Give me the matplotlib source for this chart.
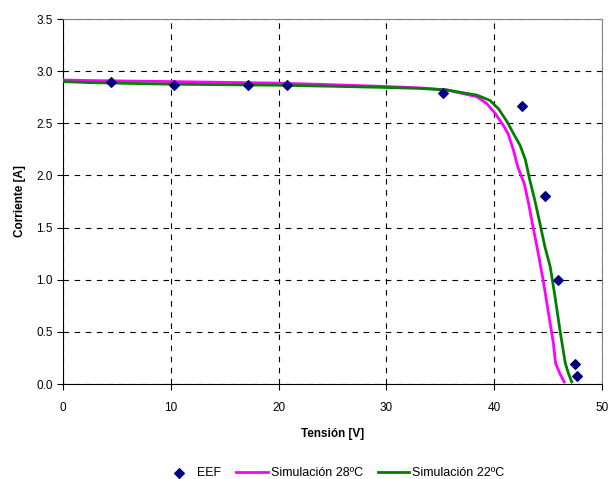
import matplotlib.pyplot as plt
import numpy as np

plt.rcParams['font.family'] = ['Liberation Sans', 'DejaVu Sans']

# measured points (EEF)
v_eef = [4.5, 10.3, 17.2, 20.8, 35.3, 42.6, 44.7, 45.9, 47.5, 47.65]
i_eef = [2.90, 2.87, 2.87, 2.87, 2.79, 2.67, 1.80, 1.00, 0.19, 0.08]

# simulation at 28 C
v_28 = [0, 2.5, 10, 20, 25, 29.4, 33, 35.6, 38.4, 39.3, 40.1, 40.85, 41.3, 41.8,
        42.2, 42.8, 43.2, 43.6, 44.1, 44.6, 44.9, 45.2, 45.5, 45.7, 46.1, 46.5]
i_28 = [2.915, 2.91, 2.90, 2.885, 2.87, 2.855, 2.84, 2.82, 2.755, 2.69, 2.595, 2.48, 2.40, 2.24,
        2.08, 1.92, 1.73, 1.51, 1.25, 0.965, 0.77, 0.58, 0.39, 0.20, 0.10, 0.02]

# simulation at 22 C
v_22 = [0, 2.5, 10, 20, 25, 29.4, 33, 35.6, 38.4, 39.6, 40.4, 41.2, 41.8, 42.4, 42.9,
        43.3, 43.8, 44.25, 44.7, 45.2, 45.6, 46.1, 46.6, 46.9, 47.2]
i_22 = [2.90, 2.89, 2.875, 2.865, 2.855, 2.845, 2.835, 2.82, 2.77, 2.72, 2.64, 2.515, 2.40, 2.29, 2.15,
        1.96, 1.75, 1.54, 1.32, 1.125, 0.87, 0.52, 0.20, 0.10, 0.02]

fig = plt.figure(figsize=(6.09, 4.79), dpi=100)
ax = fig.add_axes([0.1034, 0.1983, 0.885, 0.762])

ax.plot(v_28, i_28, color='#ff00ff', lw=2, label='Simulación 28ºC', zorder=3)
ax.plot(v_22, i_22, color='#008000', lw=2, label='Simulación 22ºC', zorder=4)
ax.scatter(v_eef, i_eef, marker='D', s=24, color='#000080', label='EEF', zorder=5)

ax.set_xlim(0, 50)
ax.set_ylim(0, 3.5)
ax.set_xticks(np.arange(0, 51, 10))
ax.set_yticks(np.arange(0, 3.51, 0.5))
ax.set_yticklabels(['%.1f' % t for t in np.arange(0, 3.51, 0.5)])
ax.grid(True, color='black', linestyle=(0, (5, 5)), lw=0.8)
ax.tick_params(labelsize=8.5, length=4, width=0.8, direction='out')
ax.tick_params(axis='x', pad=9.3)
for s in ['top', 'right']:
    ax.spines[s].set_color('#808080')
ax.spines['left'].set_color('black')
ax.spines['bottom'].set_color('black')

ax.set_xlabel('Tensión [V]', fontsize=8.5, fontweight='bold', labelpad=9.5)
ax.set_ylabel('Corriente [A]', fontsize=8.5, fontweight='bold', labelpad=7)

h, l = ax.get_legend_handles_labels()
order = [2, 0, 1]
fig.legend([h[k] for k in order], [l[k] for k in order], loc='center',
           bbox_to_anchor=(0.548, 0.0125), ncol=3, frameon=False, fontsize=9,
           handlelength=2.5, handletextpad=0.25, columnspacing=1.2,
           borderaxespad=0, borderpad=0)

fig.savefig('out.png', dpi=100)
